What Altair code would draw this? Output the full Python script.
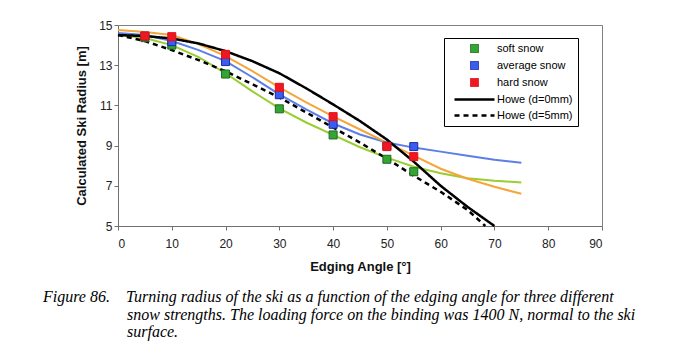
import altair as alt
import pandas as pd

# ---------------- data ----------------
marker_angles = [5, 10, 20, 30, 40, 50, 55]
soft_snow = [14.37, 14.0, 12.56, 10.83, 9.53, 8.32, 7.7]
average_snow = [14.45, 14.17, 13.18, 11.53, 10.06, 8.98, 8.95]
hard_snow = [14.45, 14.42, 13.54, 11.9, 10.44, 8.95, 8.45]

fit_angles = [0, 5, 10, 15, 20, 25, 30, 35, 40, 45, 50, 55, 60, 65, 70, 75]
soft_fit = [14.5, 14.35, 14.0, 13.4, 12.6, 11.7, 10.85, 10.15, 9.53, 8.92, 8.4, 7.95, 7.62, 7.38, 7.25, 7.17]
average_fit = [14.6, 14.5, 14.2, 13.75, 13.2, 12.4, 11.55, 10.8, 10.1, 9.55, 9.15, 8.9, 8.7, 8.5, 8.3, 8.15]
hard_fit = [14.75, 14.65, 14.5, 14.05, 13.45, 12.7, 11.9, 11.15, 10.45, 9.8, 9.15, 8.5, 7.85, 7.35, 6.95, 6.6]

howe0_angles = [0, 5, 10, 15, 20, 25, 30, 35, 40, 45, 50, 55, 60, 65, 70]
howe0 = [14.5, 14.45, 14.33, 14.08, 13.7, 13.2, 12.6, 11.85, 11.05, 10.22, 9.3, 8.2, 7.0, 5.95, 5.0]
howe5_angles = [0, 5, 10, 15, 20, 25, 30, 35, 40, 45, 50, 55, 60, 65, 68.3]
howe5 = [14.5, 14.2, 13.75, 13.25, 12.7, 12.05, 11.4, 10.65, 9.9, 9.15, 8.35, 7.5, 6.7, 5.8, 5.0]

series_names = ["soft snow", "average snow", "hard snow", "Howe (d=0mm)", "Howe (d=5mm)"]
x_ticks = [0, 10, 20, 30, 40, 50, 60, 70, 80, 90]
y_ticks = [5, 7, 9, 11, 13, 15]

INDENT = "\u200b" + "\u00a0" * 21
caption_lines = [
    "Figure 86." + "\u00a0" * 4 + "Turning radius of the ski as a function of the edging angle for three different",
    INDENT + "snow strengths. The loading force on the binding was 1400 N, normal to the ski",
    INDENT + "surface.",
]

# ---------------- tables ----------------
markers = pd.concat([
    pd.DataFrame({"angle": marker_angles, "radius": soft_snow, "series": series_names[0]}),
    pd.DataFrame({"angle": marker_angles, "radius": average_snow, "series": series_names[1]}),
    pd.DataFrame({"angle": marker_angles, "radius": hard_snow, "series": series_names[2]}),
], ignore_index=True)
markers["order"] = markers["series"].map({n: i for i, n in enumerate(series_names)})

howe = pd.concat([
    pd.DataFrame({"angle": howe0_angles, "radius": howe0, "series": series_names[3]}),
    pd.DataFrame({"angle": howe5_angles, "radius": howe5, "series": series_names[4]}),
], ignore_index=True)

soft_df = pd.DataFrame({"angle": fit_angles, "radius": soft_fit})
avg_df = pd.DataFrame({"angle": fit_angles, "radius": average_fit})
hard_df = pd.DataFrame({"angle": fit_angles, "radius": hard_fit})

# ---------------- encodings ----------------
FONT = "Liberation Sans"
x_enc = alt.X("angle:Q", scale=alt.Scale(domain=[0, 90], nice=False),
              axis=alt.Axis(values=x_ticks, title="Edging Angle [°]", labelPadding=8,
                            titlePadding=11))
y_enc = alt.Y("radius:Q", scale=alt.Scale(domain=[5, 15], nice=False, zero=False),
              axis=alt.Axis(values=y_ticks, title="Calculated Ski Radius [m]", labelPadding=2,
                            titlePadding=10))

leg = dict(title=None, orient="none", legendX=326, legendY=13, strokeColor="black",
           fillColor="white", padding=5, labelFont=FONT, labelFontSize=11, labelColor="black",
           labelOffset=17, symbolOffset=20, rowPadding=4, symbolSize=64)

LINE_SYMBOL = "M-5,0H5"
fill_scale = alt.Scale(domain=series_names, range=["#34a534", "#3a5cf0", "#f01820", "#000000", "#000000"])
stroke_scale = alt.Scale(domain=series_names, range=["#1c6a1c", "#1a2a9a", "#e01018", "#000000", "#000000"])
shape_scale = alt.Scale(domain=series_names, range=["square", "square", "square", LINE_SYMBOL, LINE_SYMBOL])
sw_scale = alt.Scale(type="ordinal", domain=series_names, range=[1, 1, 1, 2.5, 2.5])
dash_scale = alt.Scale(domain=series_names, range=[[1, 0], [1, 0], [1, 0], [1, 0], [5, 4]])


def fit_line(df, color):
    return alt.Chart(df).mark_line(color=color, strokeWidth=2).encode(x=x_enc, y=y_enc)


fits = (fit_line(soft_df, "#9acd32") + fit_line(avg_df, "#5b7fe6") + fit_line(hard_df, "#f5a53a"))

howe_lines = alt.Chart(howe).mark_line().encode(
    x=x_enc, y=y_enc,
    detail="series:N",
    stroke=alt.Stroke("series:N", scale=stroke_scale, legend=alt.Legend(**leg)),
    strokeDash=alt.StrokeDash("series:N", scale=dash_scale, legend=alt.Legend(**leg)),
    strokeWidth=alt.StrokeWidth("series:N", scale=sw_scale, legend=alt.Legend(**leg)),
)

points = alt.Chart(markers).mark_point(filled=True, opacity=1, size=64).encode(
    x=x_enc, y=y_enc,
    fill=alt.Fill("series:N", scale=fill_scale, legend=alt.Legend(**leg)),
    stroke=alt.Stroke("series:N", scale=stroke_scale, legend=alt.Legend(**leg)),
    shape=alt.Shape("series:N", scale=shape_scale, legend=alt.Legend(**leg)),
    strokeWidth=alt.StrokeWidth("series:N", scale=sw_scale, legend=alt.Legend(**leg)),
    order=alt.Order("order:Q"),
)

chart = alt.layer(fits, howe_lines, points).properties(
    width=484, height=201,
    autosize=alt.AutoSizeParams(type="none"),
    padding={"left": 118, "top": 25, "right": 98, "bottom": 126},
    background="white",
    title=alt.TitleParams(text=caption_lines, orient="bottom", anchor="start", frame="group",
                          font="Liberation Serif", fontStyle="italic", fontWeight="normal",
                          fontSize=16, color="black", dx=-75, offset=16, lineHeight=17.5),
).configure_view(
    stroke="#808080", strokeWidth=1
).configure_axis(
    grid=False, domainColor="#707070", tickColor="#707070", tickSize=4,
    labelFont=FONT, labelFontSize=12, labelColor="#222222",
    titleFont=FONT, titleFontSize=13, titleFontWeight="bold", titleColor="#111111",
)

chart.save("out.html", embed_options={"renderer": "svg", "actions": False})
